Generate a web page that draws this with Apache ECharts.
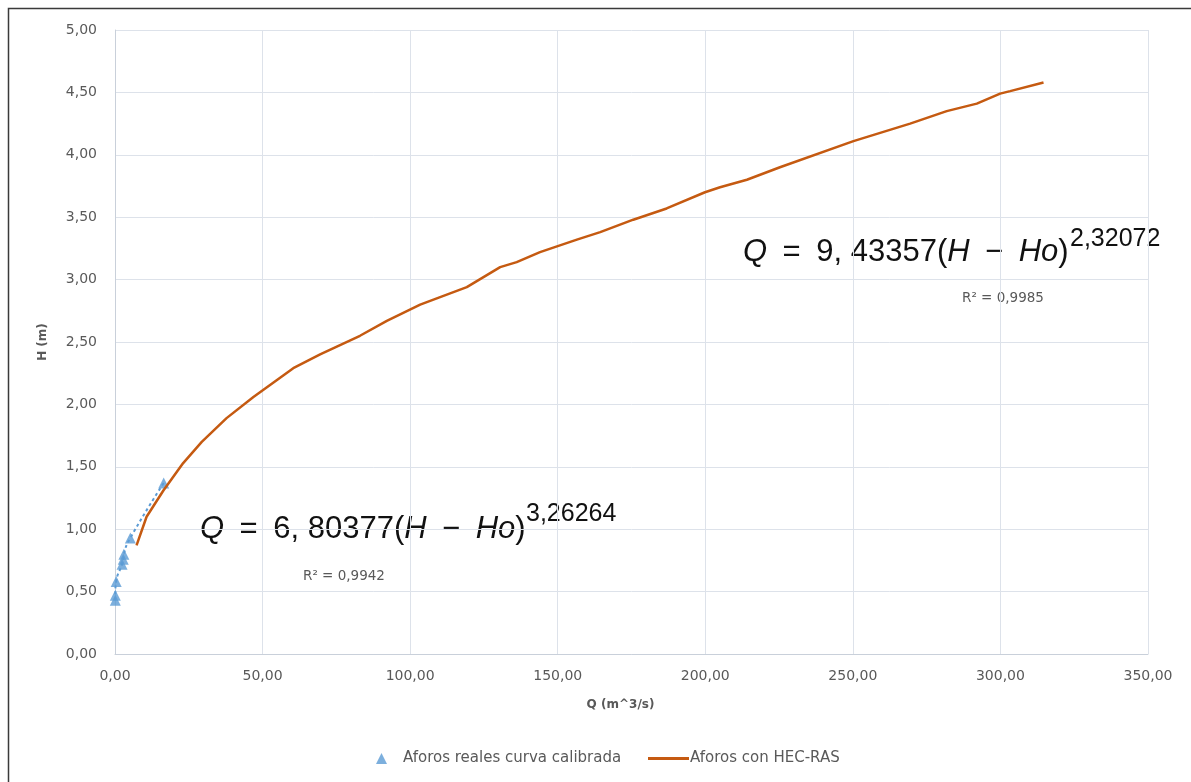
<!DOCTYPE html>
<html>
<head>
<meta charset="utf-8">
<script src="https://cdn.jsdelivr.net/npm/echarts@6/dist/echarts.min.js"></script>
<style>
  html, body { margin: 0; padding: 0; background: #fff; }
  #chart { width: 1191px; height: 782px; }
</style>
</head>
<body>
<div id="chart"></div>
<script>
// Aforos reales (gauged flows) for the calibrated rating curve
const aforosQ = [0.1, 0.1, 0.4, 2.4, 2.8, 3.0, 5.2, 16.5];
const aforosH = [0.43, 0.47, 0.58, 0.72, 0.76, 0.80, 0.93, 1.37];

// Flows computed with HEC-RAS
const hecQ = [7.3, 10.7, 16.4, 23.1, 29.4, 37.8, 46.9, 60.4, 69.5, 83.0, 92.1, 103.4, 107.9, 119.2, 130.5, 136.1,
              144.0, 156.5, 164.4, 175.6, 186.9, 199.9, 205.0, 214.1, 225.3, 250.2, 269.4, 281.8, 292.0, 299.9, 303.3, 314.6];
const hecH = [0.87, 1.10, 1.31, 1.53, 1.70, 1.89, 2.06, 2.29, 2.40, 2.55, 2.67, 2.80, 2.84, 2.94, 3.10, 3.14,
              3.22, 3.32, 3.38, 3.48, 3.57, 3.70, 3.74, 3.80, 3.90, 4.11, 4.25, 4.35, 4.41, 4.49, 4.51, 4.58];

// Axis ranges and steps
const xRange = [0, 350], xStep = 50;
const yRange = [0, 5], yStep = 0.5;

// Labels
const seriesNames = ['Aforos reales curva calibrada', 'Aforos con HEC-RAS'];
const axisNames = ['Q (m^3/s)', 'H (m)'];
const fit1 = { coef: '6, 80377', exp: '3,26264', r2: 'R² = 0,9942' };
const fit2 = { coef: '9, 43357', exp: '2,32072', r2: 'R² = 0,9985' };

const comma = v => v.toFixed(2).replace('.', ',');
const gray = '#595959';
const blue = '#5b9bd5';
const orange = '#c55a11';
const labelFont = '"DejaVu Sans", sans-serif';
const mathFont = '"Liberation Sans", sans-serif';
const EN = '\u2002';

const chart = echarts.init(document.getElementById('chart'), null, { renderer: 'canvas' });

// power-law fit equation: Q = a(H − Ho)^b
function formula(x, y, f) {
  return {
    type: 'text', left: x, top: y, silent: true,
    style: {
      text: '{i|Q}' + EN + '=' + EN + f.coef + '({i|H}' + EN + '−' + EN + '{i|Ho})',
      font: '31px ' + mathFont,
      fill: '#111',
      rich: {
        i: { fontStyle: 'italic', fontSize: 31, fontFamily: 'Liberation Sans', fill: '#111' }
      }
    }
  };
}
function exponent(x, y, f) {
  return { type: 'text', left: x, top: y, silent: true,
           style: { text: f.exp, font: '25px ' + mathFont, fill: '#111' } };
}
function r2(x, y, f) {
  return { type: 'text', left: x, top: y, silent: true,
           style: { text: f.r2, font: '13.5px ' + labelFont, fill: gray } };
}

const option = {
  backgroundColor: '#fff',
  animation: false,
  grid: { left: 115, right: 43, top: 30, bottom: 128 },
  xAxis: {
    type: 'value', min: xRange[0], max: xRange[1], interval: xStep,
    name: axisNames[0], nameLocation: 'middle', nameGap: 45,
    nameTextStyle: { color: gray, fontWeight: 'bold', fontSize: 12, fontFamily: labelFont, padding: [0, 22, 0, 0] },
    axisLine: { show: true, lineStyle: { color: '#c9d0da', width: 1 } },
    axisTick: { show: false },
    axisLabel: { color: gray, fontSize: 14, fontFamily: labelFont, margin: 15, formatter: comma },
    splitLine: { show: true, lineStyle: { color: '#dde2ea', width: 1 } }
  },
  yAxis: {
    type: 'value', min: yRange[0], max: yRange[1], interval: yStep,
    name: axisNames[1], nameLocation: 'middle', nameGap: 66,
    nameTextStyle: { color: gray, fontWeight: 'bold', fontSize: 12, fontFamily: labelFont },
    axisLine: { show: true, lineStyle: { color: '#c9d0da', width: 1 } },
    axisTick: { show: false },
    axisLabel: { color: gray, fontSize: 14, fontFamily: labelFont, margin: 18, formatter: comma },
    splitLine: { show: true, lineStyle: { color: '#dde2ea', width: 1 } }
  },
  legend: [
    {
      data: [{ name: seriesNames[0], icon: 'triangle' }],
      left: 376, top: 751, padding: 0, itemWidth: 11, itemHeight: 11,
      textStyle: { color: gray, fontSize: 15, fontFamily: labelFont, padding: [0, 0, 0, 11] }
    },
    {
      data: [{ name: seriesNames[1], icon: 'rect' }],
      left: 648, top: 751, padding: 0, itemWidth: 41, itemHeight: 3,
      textStyle: { color: gray, fontSize: 15, fontFamily: labelFont, padding: [0, 0, 0, -4] }
    }
  ],
  series: [
    {
      // dotted trend through the gauged points
      type: 'line', name: 'trend', silent: true, smooth: true, symbol: 'none',
      data: aforosQ.map((q, i) => [q, aforosH[i]]),
      lineStyle: { color: blue, width: 2, type: [3, 3] }, z: 2
    },
    {
      type: 'scatter', name: seriesNames[0], symbol: 'triangle', symbolSize: 11,
      data: aforosQ.map((q, i) => [q, aforosH[i]]),
      itemStyle: { color: blue }, z: 3
    },
    {
      type: 'line', name: seriesNames[1], symbol: 'none', smooth: false,
      data: hecQ.map((q, i) => [q, hecH[i]]),
      lineStyle: { color: orange, width: 2.5 }, itemStyle: { color: orange }, z: 4
    }
  ],
  graphic: [
    { type: 'rect', left: 6, top: 6, shape: { width: 1200, height: 800 },
      style: { fill: 'none', stroke: '#3a3a3a', lineWidth: 1.5 }, silent: true },
    formula(200, 514, fit1),
    exponent(526, 502, fit1),
    r2(303, 569, fit1),
    formula(743, 237, fit2),
    exponent(1070, 227, fit2),
    r2(962, 291, fit2)
  ]
};

chart.setOption(option);
</script>
</body>
</html>
